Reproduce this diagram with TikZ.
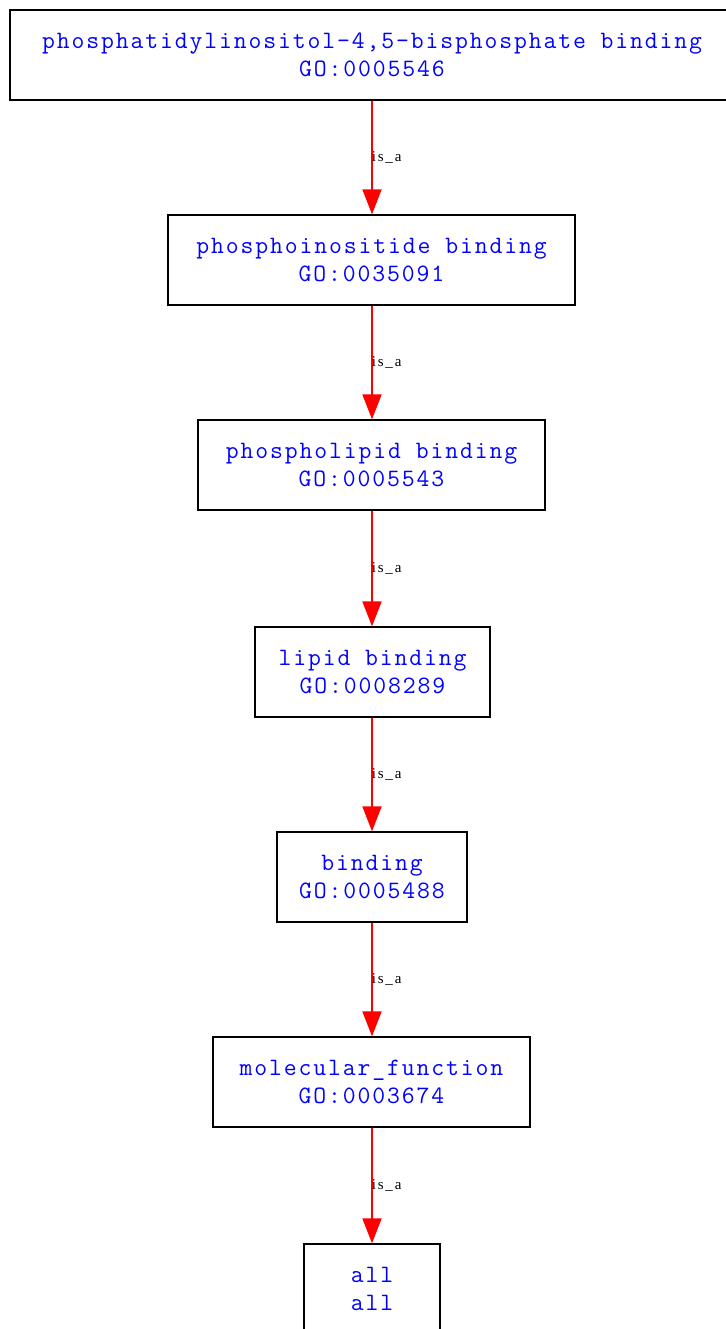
\documentclass[tikz,border=0pt]{standalone}
\usepackage{fontspec}
\newfontfamily\lblfont[LetterSpace=12]{Liberation Serif}
\newfontfamily\gofont[LetterSpace=7.5]{Latin Modern Mono}
\usetikzlibrary{arrows.meta}
\begin{document}
\begin{tikzpicture}[x=1pt,y=-1pt,
  term/.style={draw=black,line width=1.3pt,rectangle,minimum height=90pt,inner sep=0pt,
    align=center,text=blue,font=\gofont\fontsize{25pt}{28pt}\selectfont},
  isa/.style={draw=red,line width=1.8pt,-{Triangle[length=25pt,width=19pt]},shorten >=0pt},
  lbl/.style={font=\lblfont\fontsize{15pt}{17pt}\selectfont,text=black,right,inner sep=0pt,xshift=-1pt}]
\useasboundingbox[fill=white] (0,0) rectangle (725,1329);
\node[term,minimum width=724pt] (n1) at (372,55) {phosphatidylinositol-4,5-bisphosphate binding\\GO:0005546};
\node[term,minimum width=407pt] (n2) at (371.5,260) {phosphoinositide binding\\GO:0035091};
\node[term,minimum width=347pt] (n3) at (371.5,465) {phospholipid binding\\GO:0005543};
\node[term,minimum width=235pt] (n4) at (372.5,672) {lipid binding\\GO:0008289};
\node[term,minimum width=190pt] (n5) at (372,877) {binding\\GO:0005488};
\node[term,minimum width=317pt] (n6) at (371.5,1082) {molecular\_function\\GO:0003674};
\node[term,minimum width=136pt] (n7) at (372,1289) {all\\all};
\draw[isa] (n1.south -| 372,0) -- node[lbl]{is\_a} (n2.north -| 372,0);
\draw[isa] (n2.south -| 372,0) -- node[lbl]{is\_a} (n3.north -| 372,0);
\draw[isa] (n3.south -| 372,0) -- node[lbl]{is\_a} (n4.north -| 372,0);
\draw[isa] (n4.south -| 372,0) -- node[lbl]{is\_a} (n5.north -| 372,0);
\draw[isa] (n5.south -| 372,0) -- node[lbl]{is\_a} (n6.north -| 372,0);
\draw[isa] (n6.south -| 372,0) -- node[lbl]{is\_a} (n7.north -| 372,0);
\end{tikzpicture}
\end{document}
